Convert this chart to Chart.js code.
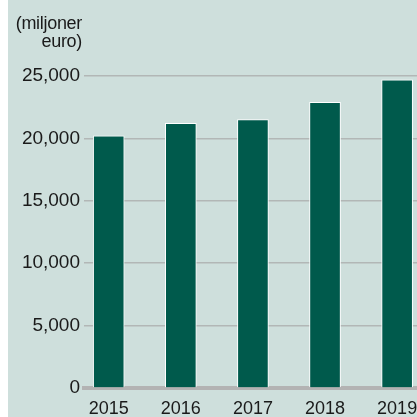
<!DOCTYPE html>
<html>
<head>
<meta charset="utf-8">
<script src="https://cdn.jsdelivr.net/npm/chart.js@4"></script>
<style>
  body { margin: 0; background: #ffffff; }
  #panel {
    position: absolute; left: 8px; top: 0; width: 409px; height: 417px;
    overflow: hidden; background: #cedfdc;
  }
  #wrap { position: absolute; left: 0; top: 0; width: 430px; height: 417px; }
  #unit {
    position: absolute; left: 0; top: 14px; width: 74px;
    font: 18px "Liberation Sans", Arial, sans-serif; line-height: 18px;
    color: #1a1a1a; text-align: right; letter-spacing: -0.3px;
  }
</style>
</head>
<body>
<div id="panel">
  <div id="wrap"><canvas id="chart1"></canvas></div>
  <div id="unit">(miljoner<br>euro)</div>
</div>
<script>
const years = [2015, 2016, 2017, 2018, 2019];
const revenue = [20200, 21200, 21500, 22900, 24700];
const yTicks = [0, 5000, 10000, 15000, 20000, 25000];

const ctx = document.getElementById('chart1').getContext('2d');
const chart1 = new Chart(ctx, {
    type: 'bar',
    data: {
        labels: years,
        datasets: [
            {
                label: 'miljoner euro',
                data: revenue,
                backgroundColor: '#005a4c',
                borderColor: '#ffffff',
                borderWidth: 1,
                barThickness: 31
            }
        ]
    },
    options: {
        responsive: true,
        maintainAspectRatio: false,
        animation: false,
        layout: {
            padding: { top: 76, left: 0, right: 0, bottom: 0 }
        },
        scales: {
            x: {
                type: 'linear',
                offset: false,
                bounds: 'data',
                min: 2014.657,
                max: 2019.567,
                z: 1,
                afterBuildTicks: (axis) => {
                    axis.ticks = years.map(v => ({ value: v }));
                },
                afterFit: (axis) => { axis.height = 29; },
                grid: { display: false, drawTicks: false, offset: false },
                border: { display: true, color: '#b3b3b3', width: 4 },
                ticks: {
                    padding: 10,
                    color: '#1a1a1a',
                    font: { family: '"Liberation Sans", Arial, sans-serif', size: 18 },
                    callback: (v) => String(v),
                    maxRotation: 0,
                    autoSkip: false
                }
            },
            y: {
                min: 0,
                max: 25000,
                afterBuildTicks: (axis) => {
                    axis.ticks = yTicks.map(v => ({ value: v }));
                },
                afterFit: (axis) => { axis.width = 76; },
                grid: { color: '#b2b7b6', lineWidth: 1.5, drawTicks: false },
                border: { display: false },
                ticks: {
                    padding: 4,
                    color: '#1a1a1a',
                    font: { family: '"Liberation Sans", Arial, sans-serif', size: 19 },
                    callback: (v) => v.toLocaleString('en-US')
                }
            }
        },
        plugins: {
            legend: { display: false },
            tooltip: { enabled: false }
        }
    }
});
</script>
</body>
</html>
